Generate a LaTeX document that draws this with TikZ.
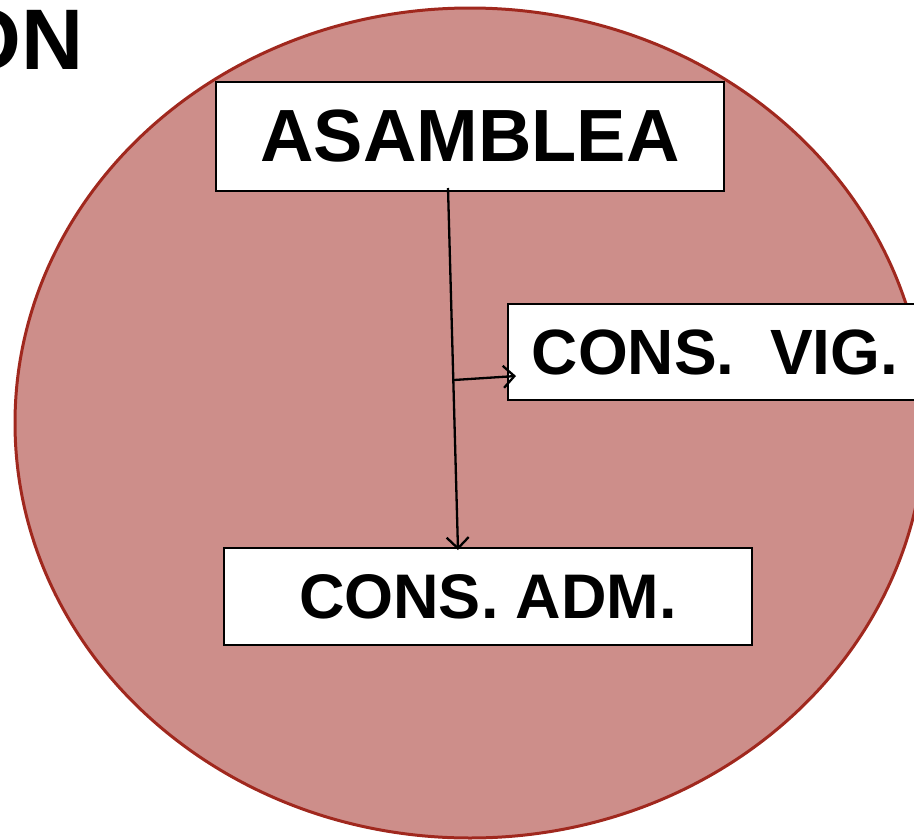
\documentclass[tikz,border=0pt]{standalone}
\usepackage{fontspec}
\setmainfont{Liberation Sans}
\usetikzlibrary{arrows.meta}
\definecolor{discfill}{RGB}{205,142,138}
\definecolor{discedge}{RGB}{160,40,30}
\tikzset{
  labelbox/.style={draw=black, fill=white, line width=2.5pt, inner sep=0pt, font=\bfseries},
  conn/.style={line width=2.3pt, black},
  tip/.style={-{Straight Barb[length=11pt,width=22pt,line width=2.3pt]}}
}
\begin{document}
\begin{tikzpicture}[x=1pt,y=-1pt]
\useasboundingbox (0,0) rectangle (914,839);
\begin{scope}
\clip (0,0) rectangle (914,839);
\fill[discfill, draw=discedge, line width=3pt] (470,423) ellipse [x radius=455, y radius=415];
\node[anchor=base east, font=\bfseries\fontsize{86}{94}\selectfont, inner sep=0pt] (title) at (84,69) {ON};
\node[labelbox, minimum width=508pt, minimum height=109pt, font=\bfseries\fontsize{74}{80}\selectfont] (asam) at (470,136.5) {ASAMBLEA};
\node[labelbox, minimum width=414pt, minimum height=96pt, font=\bfseries\fontsize{64}{70}\selectfont] (vig) at (715,352) {CONS.\ \ VIG.};
\node[labelbox, minimum width=528pt, minimum height=97pt, font=\bfseries\fontsize{63}{70}\selectfont] (adm) at (488,596.5) {CONS. ADM.};
\coordinate (top) at (448,188);
\coordinate (branch) at (454,380);
\coordinate (vigin) at (516,376);
\coordinate (admin) at (458,550);
\draw[conn, tip] (top) -- (admin);
\draw[conn, tip] (branch) -- (vigin);
\end{scope}
\end{tikzpicture}
\end{document}
